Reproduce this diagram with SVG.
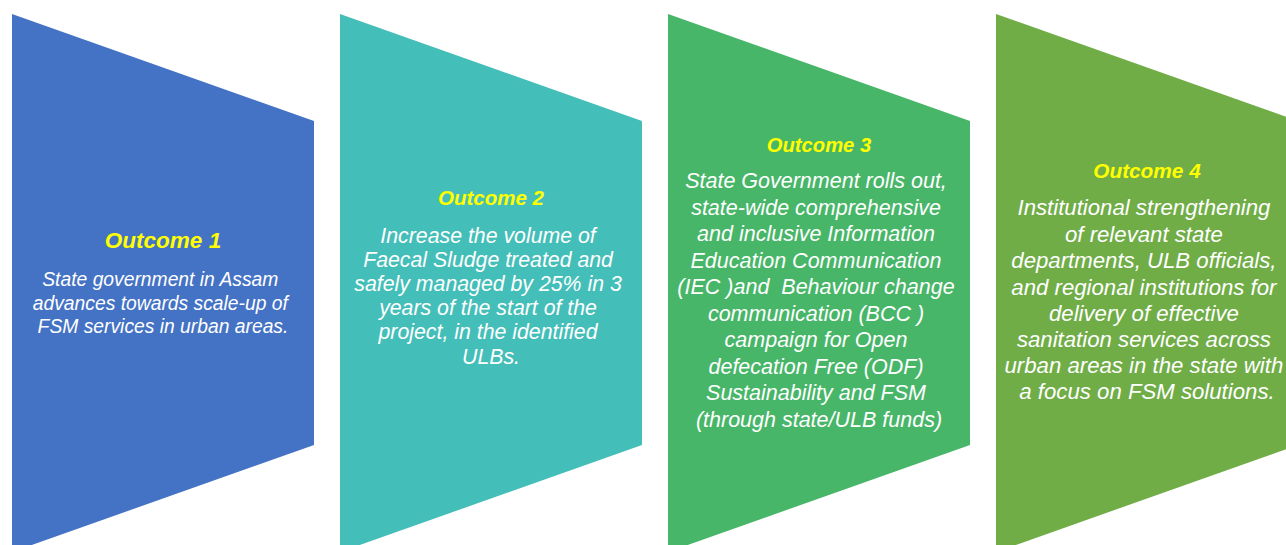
<svg xmlns="http://www.w3.org/2000/svg" width="1286" height="545" viewBox="0 0 1286 545">
  <style>
    .title { font-family: "Liberation Sans", Arial, sans-serif; font-style: italic; font-weight: bold; fill: #FFFF00; text-anchor: middle; }
    .body { font-family: "Liberation Sans", Arial, sans-serif; font-style: italic; fill: #FFFFFF; text-anchor: middle; }
  </style>
  <rect width="1286" height="545" fill="#FFFFFF"/>

  <!-- Outcome 1 -->
  <g id="outcome1">
    <polygon points="12,14 314,121 314,445 12,552" fill="#4472C4"/>
    <text class="title" x="163" y="248" font-size="22.5">Outcome 1</text>
    <text class="body" font-size="19.3">
      <tspan x="163" y="286">State government in Assam</tspan>
      <tspan x="163" y="309.5">advances towards scale-up of</tspan>
      <tspan x="163" y="333">FSM services in urban areas.</tspan>
    </text>
  </g>

  <!-- Outcome 2 -->
  <g id="outcome2">
    <polygon points="340,14 642,121 642,445 340,552" fill="#44BEB8"/>
    <text class="title" x="491" y="205" font-size="20.5">Outcome 2</text>
    <text class="body" font-size="21.3">
      <tspan x="491" y="243">Increase the volume of</tspan>
      <tspan x="491" y="267">Faecal Sludge treated and</tspan>
      <tspan x="491" y="291">safely managed by 25% in 3</tspan>
      <tspan x="491" y="315">years of the start of the</tspan>
      <tspan x="491" y="339">project, in the identified</tspan>
      <tspan x="491" y="364">ULBs.</tspan>
    </text>
  </g>

  <!-- Outcome 3 -->
  <g id="outcome3">
    <polygon points="668,14 970,121 970,445 668,552" fill="#47B668"/>
    <text class="title" x="819" y="152" font-size="20.2">Outcome 3</text>
    <text class="body" font-size="21.5">
      <tspan x="819" y="188">State Government rolls out,</tspan>
      <tspan x="819" y="214.5">state-wide comprehensive</tspan>
      <tspan x="819" y="241">and inclusive Information</tspan>
      <tspan x="819" y="267.5">Education Communication</tspan>
      <tspan x="819" y="294" xml:space="preserve">(IEC )and  Behaviour change</tspan>
      <tspan x="819" y="320.5">communication (BCC )</tspan>
      <tspan x="819" y="347">campaign for Open</tspan>
      <tspan x="819" y="373.5">defecation Free (ODF)</tspan>
      <tspan x="819" y="400">Sustainability and FSM</tspan>
      <tspan x="819" y="426.5">(through state/ULB funds)</tspan>
    </text>
  </g>

  <!-- Outcome 4 -->
  <g id="outcome4">
    <polygon points="996,14 1298,121 1298,445 996,552" fill="#70AD47"/>
    <text class="title" x="1147" y="178" font-size="20.8">Outcome 4</text>
    <text class="body" font-size="22.2">
      <tspan x="1147" y="215">Institutional strengthening</tspan>
      <tspan x="1147" y="241.5">of relevant state</tspan>
      <tspan x="1147" y="268">departments, ULB officials,</tspan>
      <tspan x="1147" y="294.5">and regional institutions for</tspan>
      <tspan x="1147" y="321">delivery of effective</tspan>
      <tspan x="1147" y="347">sanitation services across</tspan>
      <tspan x="1147" y="372.5">urban areas in the state with</tspan>
      <tspan x="1147" y="399">a focus on FSM solutions.</tspan>
    </text>
  </g>

  <!-- no connectors between the outcome panels -->
  <g id="connectors"/>
</svg>
